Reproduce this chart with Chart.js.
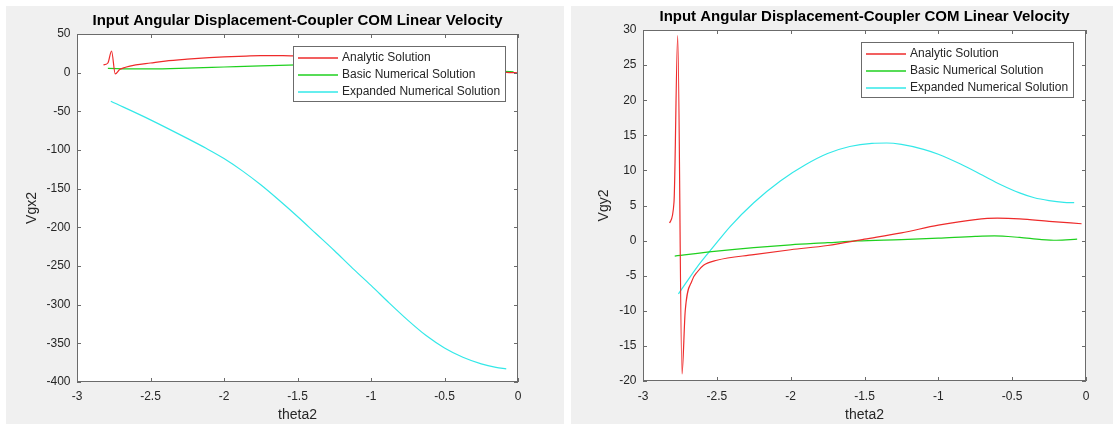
<!DOCTYPE html>
<html lang="en">
<head>
  <meta charset="UTF-8">
  <title>Input Angular Displacement-Coupler COM Linear Velocity</title>
  <script src="https://cdn.jsdelivr.net/npm/chart.js@4/dist/chart.umd.min.js"></script>
  <style>
    html, body { margin: 0; padding: 0; width: 1119px; height: 424px; background: #ffffff; overflow: hidden; }
    .panel { position: absolute; top: 6px; height: 418px; background: #f0f0f0; }
    #panelLeft { left: 6px; width: 558px; }
    #panelRight { left: 571px; width: 542px; }
    canvas { display: block; }
  </style>
</head>
<body>
  <div class="panel" id="panelLeft"><canvas id="chartLeft" width="558" height="418"></canvas></div>
  <div class="panel" id="panelRight"><canvas id="chartRight" width="542" height="418"></canvas></div>

  <script>
    // Series names (same for both plots)
    var seriesNames = ["Analytic Solution", "Basic Numerical Solution", "Expanded Numerical Solution"];
    var seriesColors = ["#ee2b2b", "#1fd01f", "#33e8e8"];

    // Shared x ticks
    var xTickValues = [-3, -2.5, -2, -1.5, -1, -0.5, 0];
    var xTickLabels = ["-3", "-2.5", "-2", "-1.5", "-1", "-0.5", "0"];

    // Left plot : Vgx2
    var leftYTickValues = [-400, -350, -300, -250, -200, -150, -100, -50, 0, 50];
    var leftYTickLabels = ["-400", "-350", "-300", "-250", "-200", "-150", "-100", "-50", "0", "50"];

    var vgxAnalyticTheta = [-2.82, -2.79, -2.765, -2.74, -2.71, -2.67, -2.6, -2.5, -2.4, -2.25, -2.1, -2.0, -1.85, -1.75, -1.6, -1.5, -1.25, -1.0, -0.75, -0.5, -0.25, -0.08, 0];
    var vgxAnalytic      = [10, 12.5, 28, -1.5, 4, 7, 10, 12.5, 15, 17.5, 19.5, 20.5, 21.5, 22, 22, 21.5, 19.5, 16.5, 12.5, 7.5, 3, 0.5, -0.3];

    var vgxBasicTheta = [-2.79, -2.6, -2.5, -2.25, -2.0, -1.75, -1.5, -1.25, -1.0, -0.75, -0.5, -0.25, -0.1, -0.03];
    var vgxBasic      = [5.5, 4.8, 4.8, 5.8, 7.3, 8.8, 10, 10.8, 10.5, 9, 6.5, 3.5, 1.8, 1.2];

    var vgxExpandedTheta = [-2.77, -2.5, -2.25, -2.125, -2.0, -1.875, -1.75, -1.625, -1.5, -1.375, -1.25, -1.125, -1.0, -0.875, -0.75, -0.625, -0.5, -0.375, -0.25, -0.15, -0.08];
    var vgxExpanded      = [-37, -61, -85, -97.5, -111, -127, -145, -165, -186, -208, -230, -253, -275, -298, -320, -340, -356, -368, -376.5, -381, -383];

    // Right plot : Vgy2
    var rightYTickValues = [-20, -15, -10, -5, 0, 5, 10, 15, 20, 25, 30];
    var rightYTickLabels = ["-20", "-15", "-10", "-5", "0", "5", "10", "15", "20", "25", "30"];

    var vgyAnalyticTheta = [-2.82, -2.79, -2.765, -2.736, -2.714, -2.668, -2.63, -2.59, -2.5, -2.25, -2.0, -1.75, -1.5, -1.25, -1.0, -0.75, -0.6, -0.45, -0.25, -0.03];
    var vgyAnalytic      = [2.5, 5.5, 29.2, -19, -10, -5.7, -4.4, -3.5, -2.8, -2.0, -1.3, -0.7, 0.2, 1.1, 2.2, 3.0, 3.2, 3.1, 2.75, 2.4];

    var vgyBasicTheta = [-2.785, -2.5, -2.25, -2.0, -1.75, -1.55, -1.25, -1.0, -0.75, -0.62, -0.45, -0.3, -0.2, -0.06];
    var vgyBasic      = [-2.2, -1.5, -1.0, -0.6, -0.3, -0.05, 0.15, 0.35, 0.6, 0.67, 0.45, 0.15, 0.05, 0.2];

    var vgyExpandedTheta = [-2.76, -2.635, -2.52, -2.41, -2.25, -2.07, -1.9, -1.75, -1.6, -1.45, -1.35, -1.25, -1.1, -1.0, -0.85, -0.7, -0.58, -0.45, -0.35, -0.25, -0.15, -0.08];
    var vgyExpanded      = [-7.6, -3.8, -0.8, 2.0, 5.4, 8.5, 10.8, 12.4, 13.4, 13.85, 13.9, 13.7, 13.0, 12.3, 10.9, 9.3, 8.0, 6.8, 6.1, 5.7, 5.45, 5.4];

    var AXIS_COLOR = "#6b6b6b";
    var TEXT_COLOR = "#262626";
    var TICK_LEN = 4;

    Chart.defaults.font.family = "'Liberation Sans', Arial, sans-serif";

    /* Build {x, y} points from two arrays */
    function toPoints(_xs, _ys) {
      var points = [];
      for (var i = 0; i < _xs.length; i++) {
        points.push({ x: _xs[i], y: _ys[i] });
      }
      return points;
    }

    /* MATLAB-like axes : white plot box, inward ticks and boxed legend */
    var matlabAxesPlugin = {
      id: "matlabAxes",
      beforeDraw: function(chart) {
        var a = chart.chartArea;
        var ctx = chart.ctx;
        ctx.save();
        ctx.fillStyle = "#ffffff";
        ctx.fillRect(a.left, a.top, a.right - a.left, a.bottom - a.top);
        ctx.restore();
      },
      afterDraw: function(chart) {
        var a = chart.chartArea;
        var ctx = chart.ctx;
        var xs = chart.scales.x;
        var ys = chart.scales.y;

        ctx.save();
        ctx.strokeStyle = AXIS_COLOR;
        ctx.lineWidth = 1;
        ctx.strokeRect(a.left + 0.5, a.top + 0.5, a.right - a.left - 1, a.bottom - a.top - 1);

        ctx.beginPath();
        xs.ticks.forEach(function(t) {
          var px = Math.round(xs.getPixelForValue(t.value)) + 0.5;
          ctx.moveTo(px, a.bottom);
          ctx.lineTo(px, a.bottom - TICK_LEN);
          ctx.moveTo(px, a.top);
          ctx.lineTo(px, a.top + TICK_LEN);
        });
        ys.ticks.forEach(function(t) {
          var py = Math.round(ys.getPixelForValue(t.value)) + 0.5;
          ctx.moveTo(a.left, py);
          ctx.lineTo(a.left + TICK_LEN, py);
          ctx.moveTo(a.right, py);
          ctx.lineTo(a.right - TICK_LEN, py);
        });
        ctx.stroke();

        // Legend box in the upper right corner
        ctx.font = "12px 'Liberation Sans', Arial, sans-serif";
        var textWidth = 0;
        chart.data.datasets.forEach(function(ds) {
          textWidth = Math.max(textWidth, ctx.measureText(ds.label).width);
        });
        var boxW = Math.round(48 + textWidth + 6);
        var boxH = 55;
        var boxX = Math.round(a.right - 13 - boxW);
        var boxY = Math.round(a.top + 12);

        ctx.fillStyle = "#ffffff";
        ctx.fillRect(boxX, boxY, boxW, boxH);
        ctx.strokeStyle = AXIS_COLOR;
        ctx.strokeRect(boxX + 0.5, boxY + 0.5, boxW, boxH);

        ctx.textBaseline = "middle";
        ctx.textAlign = "left";
        chart.data.datasets.forEach(function(ds, i) {
          var rowY = boxY + 12 + i * 17;
          ctx.strokeStyle = ds.borderColor;
          ctx.lineWidth = 1.3;
          ctx.beginPath();
          ctx.moveTo(boxX + 5, rowY);
          ctx.lineTo(boxX + 45, rowY);
          ctx.stroke();
          ctx.fillStyle = TEXT_COLOR;
          ctx.fillText(ds.label, boxX + 49, rowY);
        });
        ctx.restore();
      }
    };

    /* Create one plot */
    function createPlot(_canvasId, _cfg) {
      var datasets = [];
      for (var i = 0; i < _cfg.series.length; i++) {
        datasets.push({
          label: seriesNames[i],
          data: _cfg.series[i],
          borderColor: seriesColors[i],
          borderWidth: 1.2,
          pointRadius: 0,
          fill: false,
          cubicInterpolationMode: "monotone"
        });
      }

      return new Chart(document.getElementById(_canvasId), {
        type: "line",
        data: { datasets: datasets },
        plugins: [matlabAxesPlugin],
        options: {
          responsive: false,
          animation: false,
          layout: { padding: { left: 0, right: _cfg.padRight, top: 0, bottom: 0 } },
          plugins: {
            legend: { display: false },
            tooltip: { enabled: false },
            title: {
              display: true,
              text: "Input Angular Displacement-Coupler COM Linear Velocity",
              color: "#000000",
              fullSize: false,
              font: { size: 15, weight: "bold" },
              padding: { top: _cfg.titleTop, bottom: _cfg.titleBottom }
            }
          },
          scales: {
            x: {
              type: "linear",
              min: -3,
              max: 0,
              grid: { display: false, drawTicks: false },
              border: { display: false },
              afterBuildTicks: function(scale) {
                scale.ticks = xTickValues.map(function(v) { return { value: v }; });
              },
              afterFit: function(scale) { scale.height = _cfg.xHeight; },
              ticks: {
                color: TEXT_COLOR,
                font: { size: 12 },
                padding: _cfg.xTickPad,
                maxRotation: 0,
                callback: function(value) { return xTickLabels[xTickValues.indexOf(value)]; }
              },
              title: {
                display: true,
                text: "theta2",
                color: TEXT_COLOR,
                font: { size: 14 },
                padding: { top: 0, bottom: 0 }
              }
            },
            y: {
              type: "linear",
              min: _cfg.yTicks[0],
              max: _cfg.yTicks[_cfg.yTicks.length - 1],
              grid: { display: false, drawTicks: false },
              border: { display: false },
              afterBuildTicks: function(scale) {
                scale.ticks = _cfg.yTicks.map(function(v) { return { value: v }; });
              },
              afterFit: function(scale) { scale.width = _cfg.yWidth; },
              ticks: {
                color: TEXT_COLOR,
                font: { size: 12 },
                padding: 6.5,
                callback: function(value) { return _cfg.yLabels[_cfg.yTicks.indexOf(value)]; }
              },
              title: {
                display: true,
                text: _cfg.yTitle,
                color: TEXT_COLOR,
                font: { size: 14 },
                padding: { top: _cfg.yTitlePad, bottom: 0 }
              }
            }
          }
        }
      });
    }

    createPlot("chartLeft", {
      series: [
        toPoints(vgxAnalyticTheta, vgxAnalytic),
        toPoints(vgxBasicTheta, vgxBasic),
        toPoints(vgxExpandedTheta, vgxExpanded)
      ],
      yTicks: leftYTickValues,
      yLabels: leftYTickLabels,
      yTitle: "Vgx2",
      yTitlePad: 17.6,
      yWidth: 71,
      padRight: 46,
      xHeight: 42,
      xTickPad: 7.5,
      titleTop: 6.2,
      titleBottom: 3.8
    });

    createPlot("chartRight", {
      series: [
        toPoints(vgyAnalyticTheta, vgyAnalytic),
        toPoints(vgyBasicTheta, vgyBasic),
        toPoints(vgyExpandedTheta, vgyExpanded)
      ],
      yTicks: rightYTickValues,
      yLabels: rightYTickLabels,
      yTitle: "Vgy2",
      yTitlePad: 24.6,
      yWidth: 72,
      padRight: 27,
      xHeight: 43,
      xTickPad: 8,
      titleTop: 1.7,
      titleBottom: 4.3
    });
  </script>
</body>
</html>
